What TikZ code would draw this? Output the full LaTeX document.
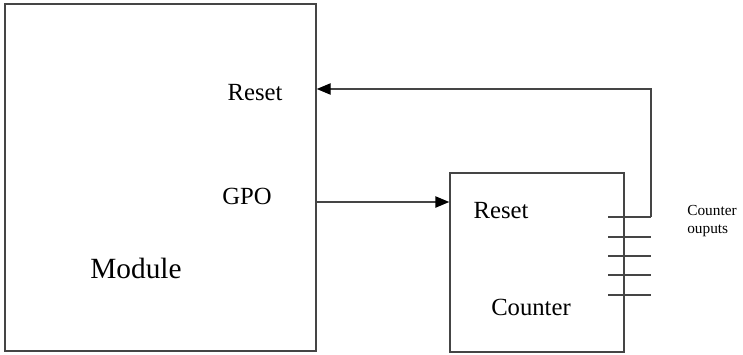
\documentclass[tikz,border=0pt]{standalone}
\usepackage{fontspec}
\setmainfont{Liberation Serif}
\usetikzlibrary{arrows.meta, positioning}
\definecolor{lgray}{HTML}{454545}
\tikzset{
  blkbox/.style={draw=lgray, line width=1.1pt, inner sep=0pt},
  lbl/.style={inner sep=0pt, font=\fontsize{18.5}{20}\selectfont},
  arr/.style={-{Triangle[length=10.5pt, width=8.5pt, color=black]}, draw=lgray, line width=1.1pt},
  pin/.style={draw=lgray, line width=1.1pt},
}
\begin{document}
\begin{tikzpicture}[x=0.75pt, y=-0.75pt]
  \useasboundingbox (0,0) rectangle (743,354);

  % the two blocks
  \node[blkbox, minimum width=233.25pt, minimum height=260.25pt] (module) at (160.5,177.5) {};
  \node[blkbox, minimum width=130.5pt, minimum height=134.25pt] (counter) at (537,262.5) {};

  % labels
  \node[lbl] (mreset) at (255,93) {Reset};
  \node[lbl] (gpo) at (247,196) {GPO};
  \node[lbl, font=\fontsize{22}{24}\selectfont] (mname) at (136,268) {Module};
  \node[lbl] (creset) at (501,211) {Reset};
  \node[lbl] (cname) at (531,307) {Counter};
  \node[inner sep=0pt, align=left, anchor=west, font=\fontsize{11.5}{13}\selectfont] (outs) at (687,221) {Counter\\ouputs};

  % counter output pins
  \foreach \yy [count=\i] in {217,237,256,275,295}
    \draw[pin] (608,\yy) -- (651,\yy) coordinate (o\i);

  % connections
  \coordinate (fbtop) at (651,89);
  \coordinate (gpoy) at (0,202);
  \draw[arr] (o1) -- (fbtop) -- (module.east |- fbtop);
  \draw[arr] (module.east |- gpoy) -- (counter.west |- gpoy);
\end{tikzpicture}
\end{document}
